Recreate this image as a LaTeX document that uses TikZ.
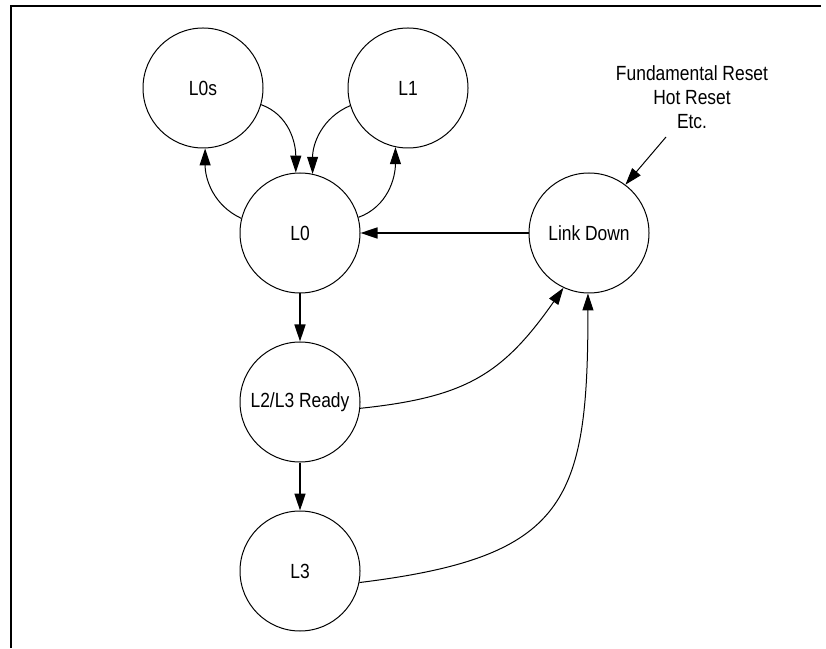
\documentclass[tikz,border=0pt]{standalone}
\usepackage{fontspec}
\newfontfamily\narrowsf[FakeStretch=0.85]{Liberation Sans}
\usetikzlibrary{arrows.meta,positioning}

\tikzset{
  pstate/.style={circle,draw,line width=1pt,minimum size=120pt,inner sep=0pt,
    font=\narrowsf\fontsize{20.5}{24}\selectfont},
  thin arc/.style={->,line width=1pt},
  thick arc/.style={->,line width=1.7pt},
}

\begin{document}
\begin{tikzpicture}[x=1pt,y=1pt,>={Triangle[length=17pt,width=11pt]},node distance=48pt]
\useasboundingbox (0,0) rectangle (826,648);
\draw[line width=2.2pt] (11,0) -- (11,642) -- (821,642);

\node[pstate] (l0) at (300,415) {L0};
\node[pstate] (l0s) [above=24pt of l0, xshift=-97pt] {L0s};
\node[pstate] (l1) [above=24pt of l0, xshift=108pt] {L1};
\node[pstate] (ready) [below=of l0] {L2/L3 Ready};
\node[pstate] (l3) [below=of ready] {L3};
\node[pstate] (ldown) [right=168pt of l0] {Link Down};

\node[align=center,font=\narrowsf\fontsize{20.5}{24}\selectfont] (reset) at (692,551)
  {Fundamental Reset\\Hot Reset\\Etc.};
\coordinate (resettail) at (666,511);

% low power states around L0
\draw[thin arc] (l0.166) to[out=155,in=-90] (l0s.-88);
\draw[thin arc] (l0s.-16) to[out=-20,in=90] (l0.94);
\draw[thin arc] (l1.197) to[out=203,in=90] (l0.78);
\draw[thin arc] (l0.15) to[out=20,in=-90] (l1.258);

% main chain
\draw[thick arc] (ldown) -- (l0);
\draw[thick arc] (l0) -- (ready);
\draw[thick arc] (ready) -- (l3);

% back to link down
\draw[thin arc] (ready.-6) to[out=6,in=235,looseness=1.15] (ldown.245);
\draw[thin arc] (l3.-11) to[out=7,in=-90,looseness=1.45] (ldown.-91);
\draw[thin arc] (resettail) -- (ldown.53);
\end{tikzpicture}
\end{document}
